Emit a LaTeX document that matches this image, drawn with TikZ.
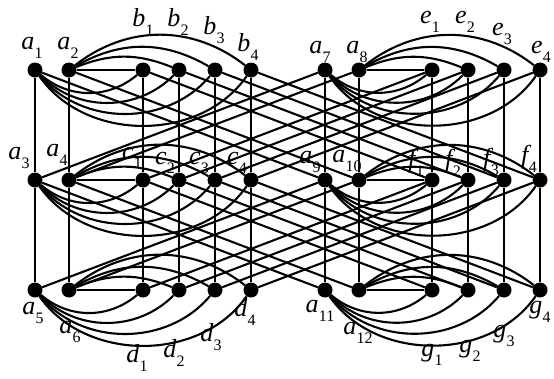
\documentclass[tikz,border=0pt]{standalone}
\usepackage{fontspec}
\setmainfont{Liberation Serif}
\newcommand\sublab[2]{#1\kern0.3pt\raisebox{-0.32em}{\fontsize{16}{16}\selectfont\upshape #2}}
\begin{document}
\begin{tikzpicture}[x=1pt,y=-1pt,
  dot/.style={circle,fill=black,inner sep=0pt,minimum size=15pt},
  edge/.style={line width=2.1pt},
  lab/.style={inner sep=0pt,font=\fontsize{26}{26}\selectfont\itshape}]
\useasboundingbox (0,0) rectangle (554,378);
\foreach \x [count=\k] in {35,69,143,179,215,251,325,359,432,468,504,540} {
  \foreach \y [count=\r] in {70,180,290} {
    \node[dot] (v\r-\k) at (\x,\y) {};
  }
}
% vertical lines
\foreach \k in {1,...,12} \draw[edge] (v1-\k) -- (v2-\k) -- (v3-\k);
% arcs within each group
\foreach \o in {0,6} {
  \foreach \r in {1,2,3} {
    \pgfmathtruncatemacro\ao{\o+1}
    \pgfmathtruncatemacro\ae{\o+2}
    \pgfmathtruncatemacro\bo{\o+3}
    \draw[edge] (v\r-\ae) -- (v\r-\bo);
    \foreach \j in {1,2,3} {
      \pgfmathtruncatemacro\t{\o+3+\j}
      \pgfmathtruncatemacro\ang{14+8*\j}
      \draw[edge] (v\r-\ae) to[bend left=\ang] (v\r-\t);
    }
    \foreach \j in {0,...,3} {
      \pgfmathtruncatemacro\t{\o+3+\j}
      \pgfmathtruncatemacro\ang{40+5*\j}
      \draw[edge] (v\r-\ao) to[bend right=\ang] (v\r-\t);
    }
  }
}
% cross edges between the two groups
\foreach \k in {1,...,6} {
  \pgfmathtruncatemacro\m{\k+6}
  \draw[edge] (v1-\k) -- (v2-\m);
  \draw[edge] (v3-\k) -- (v2-\m);
  \draw[edge] (v2-\k) -- (v1-\m);
  \draw[edge] (v2-\k) -- (v3-\m);
}
% labels
\foreach \t/\s/\x/\y in {
  a/1/32/48, a/2/68/48, b/1/143/22, b/2/178/22, b/3/214/30, b/4/248/47,
  a/7/320/52, a/8/357/52, e/1/430/22, e/2/465/22, e/3/502/34, e/4/541/52,
  a/3/19/158, a/4/57/155, c/1/132/158, c/2/165/163, c/3/199/163, c/4/237/163,
  a/9/310/162, a/10/347/161, f/1/416/163, f/2/453/163, f/3/491/162, f/4/529/159,
  a/5/33/313, a/6/70/332, d/1/137/358, d/2/174/353, d/3/211/337, d/4/245/312,
  a/11/320/311, a/12/358/333, g/1/432/355, g/2/470/351, g/3/504/336, g/4/540/312} {
  \node[lab] (l\t\s) at (\x,\y) {\sublab{\t}{\s}};
}
\end{tikzpicture}
\end{document}
